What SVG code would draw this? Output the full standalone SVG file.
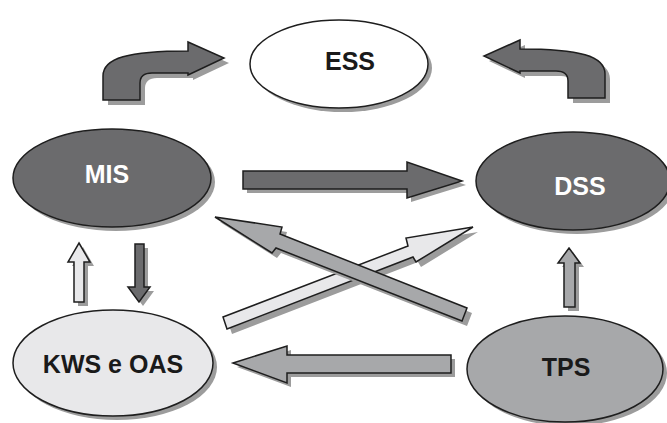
<svg xmlns="http://www.w3.org/2000/svg" xmlns:xlink="http://www.w3.org/1999/xlink" width="667" height="423" viewBox="0 0 667 423">
<style>
.shadow{fill:#9c9c9c;stroke:none}
.dark{fill:#6b6b6d;stroke:#1e1e1e;stroke-width:1.5}
.mid{fill:#a7a8aa;stroke:#1e1e1e;stroke-width:1.5}
.light{fill:#e8e8ea;stroke:#1e1e1e;stroke-width:1.5}
.white{fill:#ffffff;stroke:#1e1e1e;stroke-width:1.5}
.lbl{font-family:"Liberation Sans",Arial,sans-serif;font-weight:bold;font-size:25px;text-anchor:middle}
.wt{fill:#ffffff}
.bk{fill:#1a1a1a}
</style>
<defs>
<path id="curve" d="M103 100 L103 76 C103 58 128 51 188 51 L188 42 L224 58 L188 75 L188 73 L152 73 C144 73 140 77 140 83 L140 100 Z"/>
</defs>
<rect width="667" height="423" fill="#ffffff"/>
<g id="connectors">
  <use xlink:href="#curve" class="shadow" transform="translate(5,5)"/>
  <use xlink:href="#curve" class="dark"/>
  <use xlink:href="#curve" class="shadow" transform="translate(713,3) scale(-1,1)"/>
  <use xlink:href="#curve" class="dark" transform="translate(708,-2) scale(-1,1)"/>
  <path class="shadow" d="M247 175 L411 175 L411 166 L466 185 L411 202 L411 193 L247 193 Z"/>
  <path class="dark" d="M243 171 L407 171 L407 162 L462 181 L407 198 L407 189 L243 189 Z"/>
  <path class="shadow" d="M83 247 L94 266 L88 266 L88 306 L78 306 L78 266 L72 266 Z"/>
  <path class="light" d="M79 243 L90 262 L84 262 L84 302 L74 302 L74 262 L68 262 Z"/>
  <path class="shadow" d="M139 248 L148 248 L148 291 L154 291 L143 306 L132 291 L139 291 Z"/>
  <path class="dark" d="M135 244 L144 244 L144 287 L150 287 L139 302 L128 287 L135 287 Z"/>
  <path class="shadow" d="M573 252 L584 267 L579 267 L579 311 L568 311 L568 267 L562 267 Z"/>
  <path class="mid" d="M569 248 L580 263 L575 263 L575 307 L564 307 L564 263 L558 263 Z"/>
  <path class="shadow" d="M237 367 L291 350 L291 359 L455 359 L455 377 L291 377 L291 387 Z"/>
  <path class="mid" d="M233 363 L287 346 L287 355 L451 355 L451 373 L287 373 L287 383 Z"/>
  <path class="shadow" d="M228 322 L413 251 L411 243 L478 232 L421 267 L418 262 L232 334 Z"/>
  <path class="light" d="M223 317 L408 246 L406 238 L473 227 L416 262 L413 257 L227 329 Z"/>
  <path class="shadow" d="M220 222 L287 232 L285 239 L472 313 L467 326 L281 253 L277 258 Z"/>
  <path class="mid" d="M215 217 L282 227 L280 234 L467 308 L462 321 L276 248 L272 253 Z"/>
</g>
<g id="ess">
  <ellipse class="shadow" cx="343" cy="68" rx="89" ry="44"/>
  <ellipse class="white" cx="339" cy="64" rx="89" ry="44"/>
  <text class="lbl bk" x="350" y="70">ESS</text>
</g>
<g id="mis">
  <ellipse class="shadow" cx="116" cy="182" rx="99" ry="49"/>
  <ellipse class="dark" cx="112" cy="178" rx="99" ry="49"/>
  <text class="lbl wt" x="107" y="183">MIS</text>
</g>
<g id="dss">
  <ellipse class="shadow" cx="577" cy="185" rx="97" ry="49"/>
  <ellipse class="dark" cx="573" cy="181" rx="97" ry="49"/>
  <text class="lbl wt" x="580" y="195">DSS</text>
</g>
<g id="kws">
  <ellipse class="shadow" cx="117" cy="367" rx="100" ry="53"/>
  <ellipse class="light" cx="113" cy="363" rx="100" ry="53"/>
  <text class="lbl bk" x="113" y="373">KWS e OAS</text>
</g>
<g id="tps">
  <ellipse class="shadow" cx="569" cy="373" rx="98" ry="53"/>
  <ellipse class="mid" cx="565" cy="369" rx="98" ry="53"/>
  <text class="lbl bk" x="566" y="376">TPS</text>
</g>
</svg>
